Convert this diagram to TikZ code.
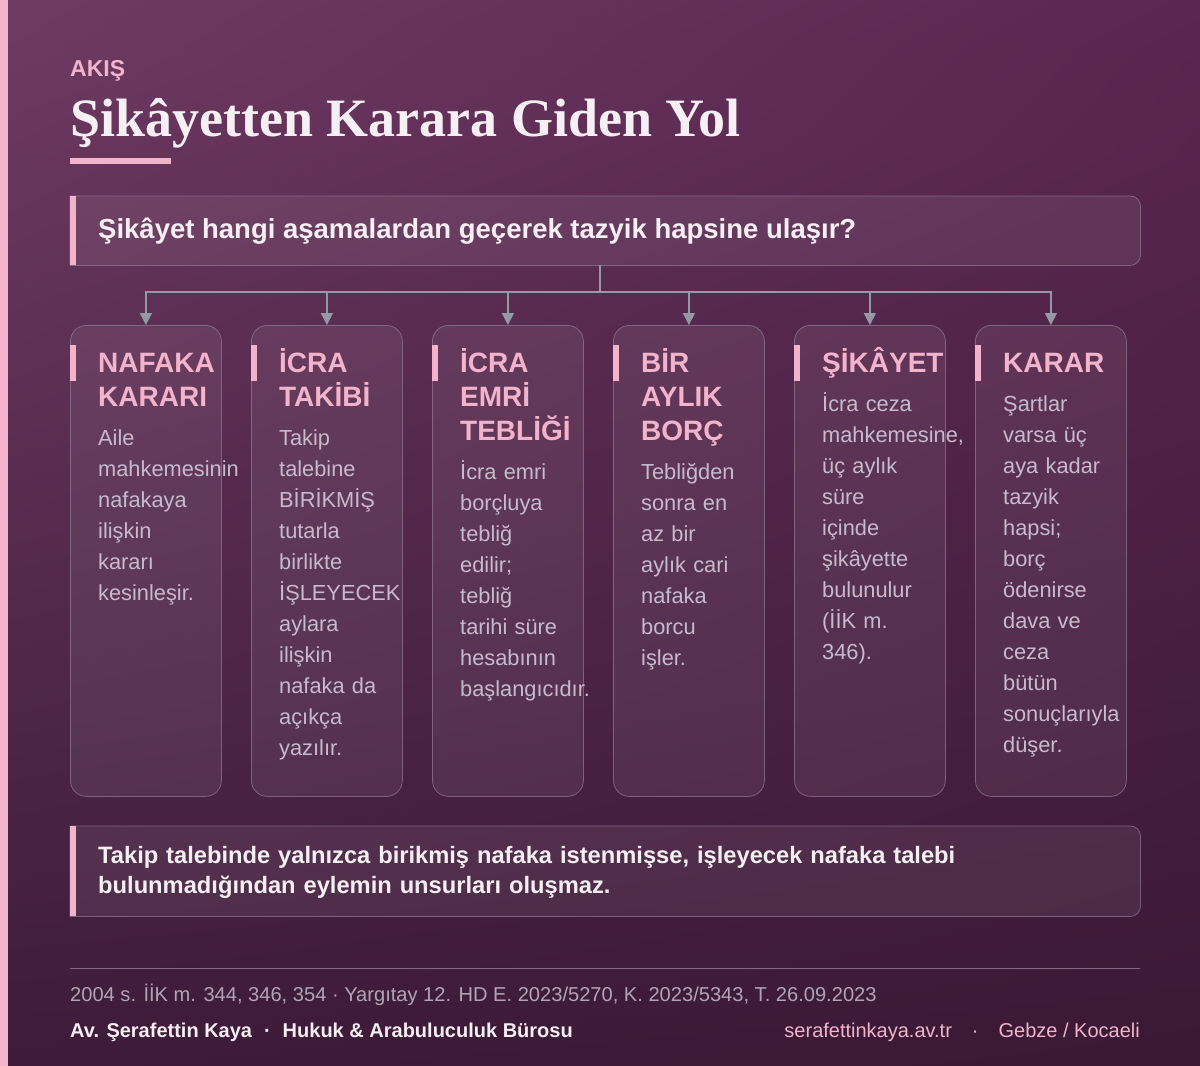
\documentclass[tikz,border=0pt]{standalone}
\usepackage{fontspec}
\setmainfont{Liberation Sans}
\newfontfamily\headserif{Liberation Serif}
\usetikzlibrary{arrows.meta,shadings}

\definecolor{bgtl}{HTML}{6F3B63}
\definecolor{bgtr}{HTML}{5B2652}
\definecolor{bgbl}{HTML}{3D1B39}
\definecolor{bgbr}{HTML}{3A1934}
\definecolor{rose}{HTML}{F2B3CB}
\definecolor{wire}{HTML}{9499A6}
\definecolor{edge}{HTML}{9A8AA2}
\definecolor{bodytext}{HTML}{C6BBCC}
\definecolor{brightext}{HTML}{F6EFF4}
\definecolor{reftext}{HTML}{B0A5B4}

\tikzset{
    panel/.style={draw=edge, draw opacity=0.6, line width=0.8pt, fill=white, fill opacity=0.07},
    card/.style={panel, rounded corners=16pt, minimum width=151pt, minimum height=471pt, inner sep=0pt, anchor=north west},
    boxspot/.style={minimum width=1070pt, inner sep=0pt, anchor=north west},
    stagehead/.style={anchor=base west, inner sep=0pt, text width=220pt, align=left, text=rose, font=\fontsize{28}{34}\selectfont\bfseries},
    stagebody/.style={anchor=base west, inner sep=0pt, text width=220pt, align=left, text=bodytext, font=\fontsize{21.8}{31}\selectfont},
    link/.style={draw=wire, line width=1.5pt},
    feed/.style={link, -{Triangle[width=12pt,length=12pt]}},
}

\begin{document}
\begin{tikzpicture}[x=1pt,y=-1pt]
            \useasboundingbox (0,0) rectangle (1200,1066);
            \shade[upper left=bgtl, upper right=bgtr, lower left=bgbl, lower right=bgbr] (0,0) rectangle (1200,1066);
            \fill[rose] (0,0) rectangle (8,1066);

            \node[anchor=base west, inner sep=0pt, text=rose, font=\fontsize{23}{27}\selectfont\bfseries] (kicker) at (70,76) {AKIŞ};
            \node[anchor=base west, inner sep=0pt, text=brightext, font=\headserif\fontsize{54}{64}\selectfont\bfseries] (title) at (70,136) {Şikâyetten Karara Giden Yol};
            \fill[rose] (70,158) rectangle (171,164);

            % soru kutusu
            \node[boxspot, minimum height=69pt] (ask) at (70,196) {};
            \path[panel] (ask.north) [rounded corners=10pt] -- (ask.north east) -- (ask.south east) -- (ask.south) [sharp corners] -- (ask.south west) -- (ask.north west) -- cycle;
            \fill[rose] (ask.north west) rectangle ([xshift=6pt]ask.south west);
            \node[anchor=base west, inner sep=0pt, text=brightext, font=\fontsize{27.5}{31}\selectfont\bfseries] (asktext) at (98,238) {Şikâyet hangi aşamalardan geçerek tazyik hapsine ulaşır?};

            \node[card] (c1) at (70,325) {};
            \node[card] (c2) at (251,325) {};
            \node[card] (c3) at (432,325) {};
            \node[card] (c4) at (613,325) {};
            \node[card] (c5) at (794,325) {};
            \node[card] (c6) at (975,325) {};
            \fill[rose] (70,345) rectangle (76,381);
            \fill[rose] (251,345) rectangle (257,381);
            \fill[rose] (432,345) rectangle (438,381);
            \fill[rose] (613,345) rectangle (619,381);
            \fill[rose] (794,345) rectangle (800,381);
            \fill[rose] (975,345) rectangle (981,381);

            \coordinate (hub) at (600,292);
            \draw[link] (ask.south -| hub) -- (hub);
            \draw[feed] (hub) -| (c1.north);
            \draw[feed] (hub) -| (c2.north);
            \draw[feed] (hub) -| (c3.north);
            \draw[feed] (hub) -| (c4.north);
            \draw[feed] (hub) -| (c5.north);
            \draw[feed] (hub) -| (c6.north);

            \node[stagehead] (h1) at (98,372) {NAFAKA\\KARARI};
            \node[stagebody] (b1) at (98,445) {Aile\\mahkemesinin\\nafakaya\\ilişkin\\kararı\\kesinleşir.};
            \node[stagehead] (h2) at (279,372) {İCRA\\TAKİBİ};
            \node[stagebody] (b2) at (279,445) {Takip\\talebine\\BİRİKMİŞ\\tutarla\\birlikte\\İŞLEYECEK\\aylara\\ilişkin\\nafaka da\\açıkça\\yazılır.};
            \node[stagehead] (h3) at (460,372) {İCRA\\EMRİ\\TEBLİĞİ};
            \node[stagebody] (b3) at (460,479) {İcra emri\\borçluya\\tebliğ\\edilir;\\tebliğ\\tarihi süre\\hesabının\\başlangıcıdır.};
            \node[stagehead] (h4) at (641,372) {BİR\\AYLIK\\BORÇ};
            \node[stagebody] (b4) at (641,479) {Tebliğden\\sonra en\\az bir\\aylık cari\\nafaka\\borcu\\işler.};
            \node[stagehead] (h5) at (822,372) {ŞİKÂYET};
            \node[stagebody] (b5) at (822,411) {İcra ceza\\mahkemesine,\\üç aylık\\süre\\içinde\\şikâyette\\bulunulur\\(İİK m.\\346).};
            \node[stagehead] (h6) at (1003,372) {KARAR};
            \node[stagebody] (b6) at (1003,411) {Şartlar\\varsa üç\\aya kadar\\tazyik\\hapsi;\\borç\\ödenirse\\dava ve\\ceza\\bütün\\sonuçlarıyla\\düşer.};

            % alt not
            \node[boxspot, minimum height=90pt] (note) at (70,826) {};
            \path[panel] (note.north) [rounded corners=10pt] -- (note.north east) -- (note.south east) -- (note.south) [sharp corners] -- (note.south west) -- (note.north west) -- cycle;
            \fill[rose] (note.north west) rectangle ([xshift=6pt]note.south west);
            \node[anchor=base west, inner sep=0pt, text width=1000pt, align=left, text=brightext, font=\fontsize{23.7}{30}\selectfont\bfseries] (notetext) at (98,863) {Takip talebinde yalnızca birikmiş nafaka istenmişse, işleyecek nafaka talebi\\bulunmadığından eylemin unsurları oluşmaz.};

            \draw[edge, draw opacity=0.7, line width=0.8pt] (70,968) -- (1140,968);
            \node[anchor=base west, inner sep=0pt, text=reftext, font=\fontsize{20.1}{24}\selectfont] (refs) at (70,1001) {2004 s. İİK m. 344, 346, 354 · Yargıtay 12. HD E. 2023/5270, K. 2023/5343, T. 26.09.2023};
            \node[anchor=base west, inner sep=0pt, text=brightext, font=\fontsize{20}{24}\selectfont\bfseries] (office) at (70,1037) {Av. Şerafettin Kaya\hspace{0.6em}·\hspace{0.6em}Hukuk \& Arabuluculuk Bürosu};
            \node[anchor=base east, inner sep=0pt, text=rose, font=\fontsize{20}{24}\selectfont] (site) at (1140,1037) {serafettinkaya.av.tr\hspace{1em}·\hspace{1em}Gebze / Kocaeli};
\end{tikzpicture}
\end{document}
